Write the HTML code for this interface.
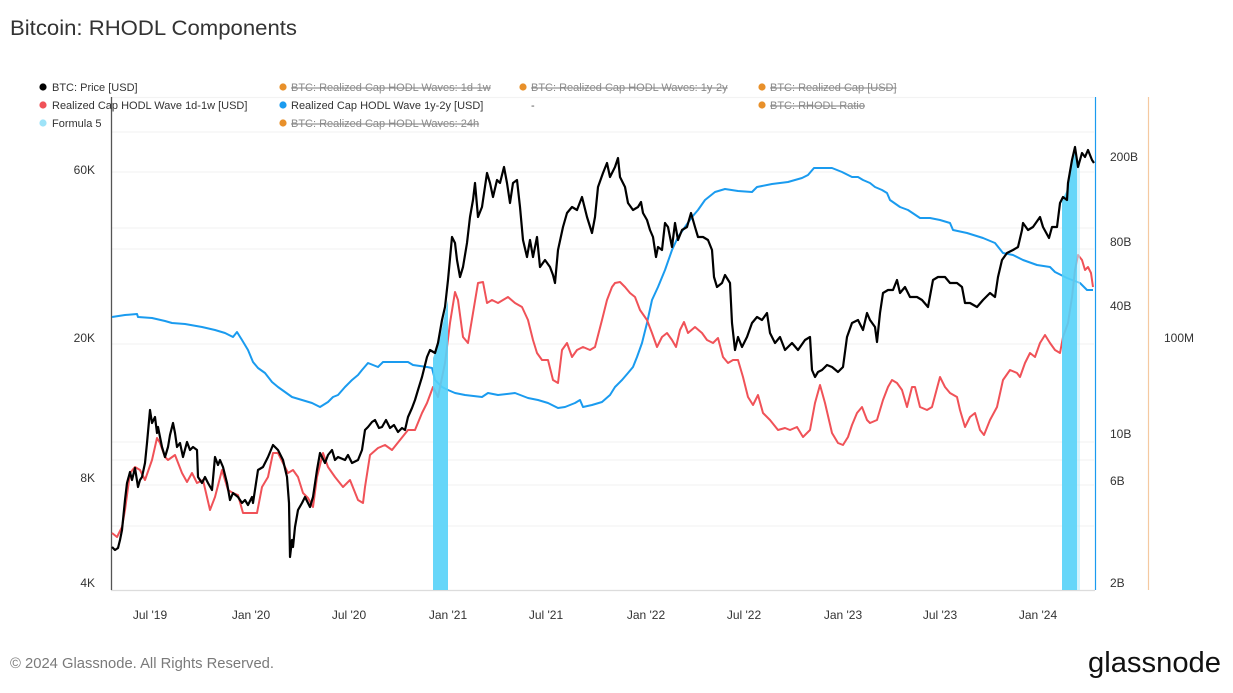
<!DOCTYPE html>
<html><head><meta charset="utf-8"><style>
html,body{margin:0;padding:0;background:#fff;}
body{width:1233px;height:693px;overflow:hidden;}
svg{display:block;font-family:"Liberation Sans",sans-serif;}
</style></head><body>
<svg width="1233" height="693" viewBox="0 0 1233 693" xmlns="http://www.w3.org/2000/svg">
<rect width="1233" height="693" fill="#fff"/>
<text x="10" y="35" font-size="21.5" fill="#333" textLength="287" lengthAdjust="spacingAndGlyphs">Bitcoin: RHODL Components</text>

<!-- gridlines -->
<g stroke="#f3f3f3" stroke-width="1.2">
<line x1="112" y1="97.5" x2="1094" y2="97.5"/>
<line x1="112" y1="132" x2="1094" y2="132"/>
<line x1="112" y1="172" x2="1094" y2="172"/>
<line x1="112" y1="228" x2="1094" y2="228"/>
<line x1="112" y1="249" x2="1094" y2="249"/>
<line x1="112" y1="344" x2="1094" y2="344"/>
<line x1="112" y1="442" x2="1094" y2="442"/>
<line x1="112" y1="460" x2="1094" y2="460"/>
<line x1="112" y1="485" x2="1094" y2="485"/>
<line x1="112" y1="526" x2="1094" y2="526"/>
</g>
<line x1="111" y1="590.5" x2="1095" y2="590.5" stroke="#dcdcdc" stroke-width="1.2"/>
<line x1="111.5" y1="97" x2="111.5" y2="590" stroke="#555" stroke-width="1.3"/>
<line x1="1095.5" y1="97" x2="1095.5" y2="590" stroke="#1a9bef" stroke-width="1.2"/>
<line x1="1148.5" y1="97" x2="1148.5" y2="590" stroke="#f5c9a0" stroke-width="1.2"/>

<!-- blue series -->
<polyline fill="none" stroke="#1a9bef" stroke-width="2" stroke-linejoin="round" points="112,317 125,315 137,314 138,317 152,318 165,321 172,323 185,324 202,327 215,330 225,333 233,337 237,332 242,340 248,350 253,362 258,368 265,373 272,382 278,387 285,392 292,397 302,400 312,403 320,407 328,402 333,397 338,395 345,387 352,380 358,375 362,370 368,363 378,367 383,362 392,362 408,362 413,365 427,367 432,368 435,380 442,387 448,390 455,393 465,395 482,397 488,393 498,395 515,393 528,398 538,400 548,403 558,408 565,407 575,403 580,400 583,407 592,405 602,402 610,395 615,387 622,380 628,373 633,367 637,357 642,343 647,323 652,300 658,287 665,270 672,250 678,237 685,227 692,217 698,210 705,200 715,192 725,189 738,191 752,192 757,187 772,184 788,182 802,178 808,175 814,168 822,168 832,168 842,172 852,177 858,177 863,180 870,183 875,187 882,190 887,193 890,200 900,207 908,210 920,218 930,218 940,220 950,223 953,230 967,233 983,238 995,243 1003,253 1013,255 1023,260 1037,265 1050,267 1055,272 1067,278 1080,283 1087,290 1093,290"/>

<!-- red series -->
<polyline fill="none" stroke="#f05258" stroke-width="2" stroke-linejoin="round" points="112,533 117,537 122,527 125,510 130,473 135,467 140,470 145,480 152,460 157,438 160,443 165,457 168,460 175,455 182,473 187,482 192,473 197,483 203,480 210,510 215,497 222,470 228,490 233,493 238,495 243,513 252,513 257,513 262,487 268,477 273,453 278,453 283,463 288,473 293,470 298,477 303,493 308,498 313,507 317,477 323,453 328,467 335,477 343,487 350,480 358,500 363,503 365,487 370,455 378,448 385,445 392,450 400,440 408,430 415,430 422,413 427,403 433,387 438,397 445,363 450,323 455,292 458,300 463,337 468,343 473,313 478,283 483,282 487,303 492,300 498,303 508,297 515,303 522,307 528,320 533,340 537,353 542,360 548,360 553,380 558,383 562,350 567,343 572,357 577,350 583,347 590,350 595,347 602,320 607,300 612,287 615,283 620,282 625,287 630,293 635,297 640,310 647,320 652,333 657,347 662,337 667,333 672,340 676,347 680,330 684,322 688,333 695,327 702,333 707,340 713,343 718,338 723,357 728,363 733,360 738,360 743,377 748,397 753,405 758,395 763,413 770,420 778,430 785,428 790,430 797,427 803,437 810,430 815,403 820,385 825,403 832,433 838,443 843,445 848,437 852,425 857,413 862,407 867,420 870,423 877,420 883,400 888,387 892,380 897,383 902,390 907,407 912,387 915,387 920,407 927,410 932,407 940,377 945,387 950,393 957,397 960,410 965,427 970,417 975,413 980,430 984,435 990,420 997,407 1003,380 1010,370 1017,373 1020,377 1025,363 1030,353 1035,357 1040,343 1045,335 1050,343 1055,350 1060,353 1063,337 1068,323 1072,297 1075,270 1078,255 1082,260 1085,270 1088,267 1091,273 1093,287"/>

<!-- formula 5 bands -->
<g fill="#55d2f8" opacity="0.9">
<polygon points="433,358 436,350 440,338 444,318 448,300 448,590 433,590"/>
<polygon points="1062,200 1066,192 1068,183 1072,162 1075,150 1077,160 1077,590 1062,590"/>
</g>
<rect x="1077" y="160" width="3" height="430" fill="#b5ebfb" opacity="0.6"/>

<!-- black price -->
<polyline fill="none" stroke="#000" stroke-width="2.2" stroke-linejoin="round" points="112,547 115,550 118,548 120,540 122,530 125,500 127,483 130,472 132,480 135,468 138,487 140,480 142,477 145,463 147,443 150,410 152,423 155,417 157,433 158,427 162,447 165,457 168,447 170,435 173,423 175,433 177,447 180,443 183,457 187,442 190,450 193,447 197,450 198,477 202,483 205,477 208,483 212,490 215,457 218,465 220,460 223,467 227,483 230,500 233,493 238,497 242,503 245,500 248,505 252,497 253,503 258,470 263,467 268,457 273,445 278,450 283,460 287,477 289,503 290,557 292,540 293,547 295,527 298,510 302,503 305,497 310,507 313,497 317,470 320,453 325,463 328,455 332,450 335,460 338,457 345,460 348,455 352,463 358,460 362,450 365,430 368,427 372,422 375,420 379,428 382,427 386,420 390,428 394,425 398,432 402,428 405,430 408,417 412,408 415,400 418,390 422,377 425,365 427,357 430,350 435,353 438,343 442,320 445,307 448,280 452,237 455,243 457,260 460,277 463,267 467,243 470,217 473,200 475,183 478,217 482,207 487,173 490,183 493,197 497,180 500,183 504,167 507,183 510,203 513,183 517,180 520,207 523,240 527,257 530,240 533,257 537,237 540,267 545,260 550,267 553,275 555,283 558,250 563,227 567,213 572,207 577,210 582,197 587,217 592,233 595,217 598,187 603,173 607,163 610,177 615,167 618,158 620,177 625,187 628,203 633,210 638,207 641,202 643,213 647,220 650,230 653,237 656,257 658,247 662,250 665,223 668,227 672,247 675,223 678,240 682,230 687,227 691,213 695,227 698,237 703,237 708,240 712,250 714,277 717,287 722,283 725,275 730,283 732,323 735,350 738,337 742,347 747,337 752,323 757,317 762,320 767,313 770,333 775,343 780,337 785,350 792,343 798,350 805,340 810,337 812,370 815,377 818,372 822,370 827,365 832,367 838,372 843,367 847,337 852,323 858,320 863,330 867,313 870,320 875,327 877,342 880,313 883,293 888,290 893,290 897,280 900,293 905,287 910,297 917,297 922,300 928,307 933,280 938,277 945,277 950,283 957,283 962,287 965,303 970,303 977,307 983,300 990,293 995,297 998,277 1002,260 1007,253 1013,250 1018,247 1022,230 1023,223 1028,230 1033,227 1040,217 1043,227 1049,238 1052,227 1057,227 1060,203 1063,197 1067,200 1068,183 1072,160 1075,147 1078,167 1082,153 1085,157 1088,150 1092,160 1094,163"/>

<!-- legend -->
<g font-size="11">
<circle cx="43" cy="87" r="3.6" fill="#000"/><text x="52" y="91" fill="#333">BTC: Price [USD]</text>
<circle cx="43" cy="105" r="3.6" fill="#f05258"/><text x="52" y="109" fill="#333">Realized Cap HODL Wave 1d-1w [USD]</text>
<circle cx="43" cy="123" r="3.6" fill="#9ee3f8"/><text x="52" y="127" fill="#333">Formula 5</text>

<circle cx="283" cy="87" r="3.6" fill="#e8902a"/><text x="291" y="91" fill="#8a8a8a" text-decoration="line-through">BTC: Realized Cap HODL Waves: 1d-1w</text>
<circle cx="283" cy="105" r="3.6" fill="#1a9bef"/><text x="291" y="109" fill="#333">Realized Cap HODL Wave 1y-2y [USD]</text>
<circle cx="283" cy="123" r="3.6" fill="#e8902a"/><text x="291" y="127" fill="#8a8a8a" text-decoration="line-through">BTC: Realized Cap HODL Waves: 24h</text>

<circle cx="523" cy="87" r="3.6" fill="#e8902a"/><text x="531" y="91" fill="#8a8a8a" text-decoration="line-through">BTC: Realized Cap HODL Waves: 1y-2y</text>
<text x="531" y="109" fill="#555">-</text>

<circle cx="762" cy="87" r="3.6" fill="#e8902a"/><text x="770" y="91" fill="#8a8a8a" text-decoration="line-through">BTC: Realized Cap [USD]</text>
<circle cx="762" cy="105" r="3.6" fill="#e8902a"/><text x="770" y="109" fill="#8a8a8a" text-decoration="line-through">BTC: RHODL Ratio</text>
</g>

<!-- left axis -->
<g font-size="12" fill="#333" text-anchor="end">
<text x="95" y="174">60K</text>
<text x="95" y="342">20K</text>
<text x="95" y="482">8K</text>
<text x="95" y="587">4K</text>
</g>
<!-- right axis -->
<g font-size="12" fill="#333">
<text x="1110" y="161">200B</text>
<text x="1110" y="246">80B</text>
<text x="1110" y="310">40B</text>
<text x="1110" y="438">10B</text>
<text x="1110" y="485">6B</text>
<text x="1110" y="587">2B</text>
<text x="1164" y="342">100M</text>
</g>
<!-- x axis -->
<g font-size="12" fill="#333" text-anchor="middle">
<text x="150" y="619">Jul '19</text>
<text x="251" y="619">Jan '20</text>
<text x="349" y="619">Jul '20</text>
<text x="448" y="619">Jan '21</text>
<text x="546" y="619">Jul '21</text>
<text x="646" y="619">Jan '22</text>
<text x="744" y="619">Jul '22</text>
<text x="843" y="619">Jan '23</text>
<text x="940" y="619">Jul '23</text>
<text x="1038" y="619">Jan '24</text>
</g>

<text x="10" y="668" font-size="14.5" fill="#7a7a7a" textLength="264" lengthAdjust="spacingAndGlyphs">© 2024 Glassnode. All Rights Reserved.</text>
<text x="1221" y="672" font-size="29" fill="#111" text-anchor="end" textLength="133" lengthAdjust="spacingAndGlyphs">glassnode</text>
</svg>
</body></html>
